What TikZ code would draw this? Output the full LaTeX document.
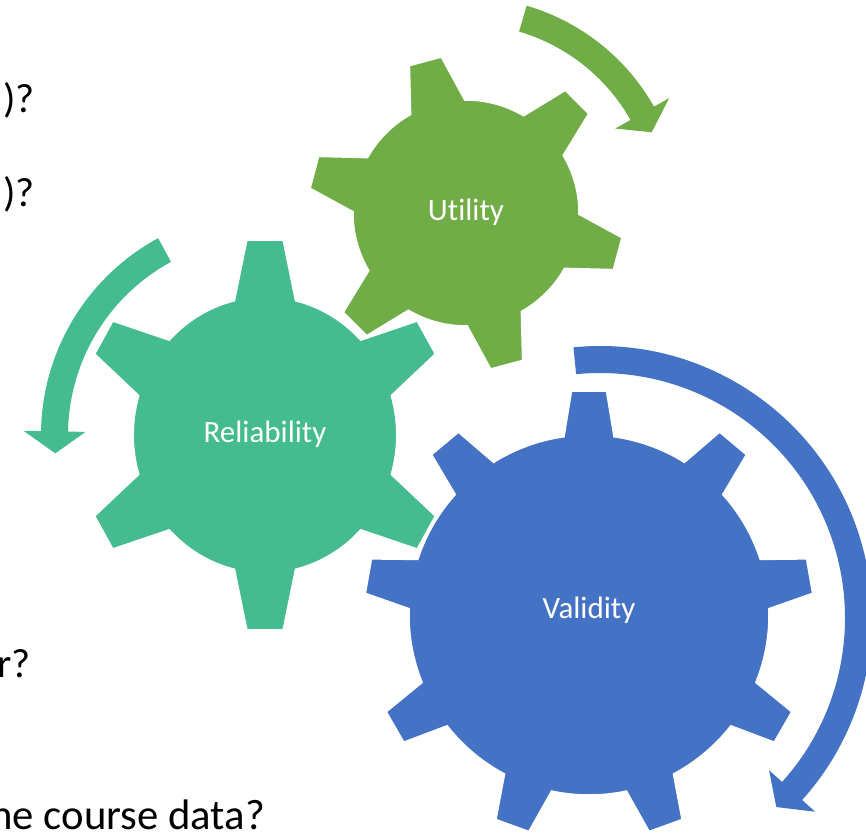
\documentclass[tikz,border=0pt]{standalone}
\usepackage{fontspec}
\setmainfont{Carlito}[Ligatures=NoCommon, RawFeature={-liga;-dlig;-clig}]
\definecolor{gearGreen}{HTML}{70AD47}
\definecolor{gearTeal}{HTML}{44BC8F}
\definecolor{gearBlue}{HTML}{4472C4}

% Gear outline: #1 style, #2 teeth, #3 angle of first tooth,
% #4 body radius, #5 tip radius, #6 half width at base, #7 half width at tip
\newcommand\drawgear[7]{%
  \pgfmathsetmacro\gstep{360/#2}%
  \pgfmathsetmacro\gab{asin(#6/#4)}%
  \pgfmathsetmacro\gat{atan(#7/#5)}%
  \pgfmathsetmacro\grt{veclen(#5,#7)}%
  \path[#1] ({#3-\gab}:#4)
    \foreach \k in {1,...,#2}{
      -- ({#3+(\k-1)*\gstep-\gat}:\grt)
      -- ({#3+(\k-1)*\gstep+\gat}:\grt)
      -- ({#3+(\k-1)*\gstep+\gab}:#4)
      arc[start angle={#3+(\k-1)*\gstep+\gab}, end angle={#3+\k*\gstep-\gab}, radius=#4]
    } -- cycle;%
}

% Curved block arrow: #1 style, #2 mid radius, #3 half shaft width,
% #4 tail angle, #5 angle where the head starts, #6 apex angle, #7 head half width
\newcommand\curvedarrow[7]{%
  \pgfmathsetmacro\aro{#2+#3}%
  \pgfmathsetmacro\ari{#2-#3}%
  \pgfmathsetmacro\aho{#2+#7}%
  \pgfmathsetmacro\ahi{#2-#7}%
  \path[#1] (#4:\aro) arc[start angle=#4, end angle=#5, radius=\aro]
    -- (#5:\aho) -- (#6:#2) -- (#5:\ahi) -- (#5:\ari)
    arc[start angle=#5, end angle=#4, radius=\ari] -- cycle;%
}

\tikzset{
  gearfill/.style={fill=#1, draw=white, line width=1.5pt, line join=miter},
  arrowfill/.style={fill=#1},
  gearlabel/.style={text=white, inner sep=0pt, font=\fontsize{31}{37}\selectfont},
  sidetext/.style={text=black, inner sep=0pt, anchor=base east, font=\fontsize{41}{49}\selectfont},
}

\begin{document}
\begin{tikzpicture}[x=1pt, y=1pt]
  \useasboundingbox (0,-832) rectangle (866,0);
  \clip (0,-832) rectangle (866,0);
  \fill[white] (0,-832) rectangle (866,0);

  % question fragments along the left edge
  \node[sidetext] (q1) at (35,-112) {)?};
  \node[sidetext] (q2) at (35,-206) {)?};
  \node[sidetext] (q3) at (31,-677) {r?};
  \node[sidetext, font=\fontsize{42.7}{51}\selectfont] (q4) at (265,-829) {he course data?};

  % rotation arrows
  \begin{scope}[shift={(265,-435)}]
    \curvedarrow{arrowfill=gearTeal}{210.5}{13.5}{118.5}{179}{185}{31}
  \end{scope}
  \begin{scope}[shift={(466,-213)}]
    \curvedarrow{arrowfill=gearGreen}{202.5}{13.5}{73.7}{29.5}{23.5}{31}
  \end{scope}
  \begin{scope}[shift={(600,-618)}]
    \curvedarrow{arrowfill=gearBlue}{258.5}{13.5}{95.6}{-42}{-47}{31}
  \end{scope}

  % gears
  \begin{scope}[shift={(265,-435)}, xscale=0.955]
    \drawgear{gearfill=gearTeal}{6}{90}{138}{195}{32}{19}
  \end{scope}
  \begin{scope}[shift={(466,-213)}]
    \drawgear{gearfill=gearGreen}{6}{105}{113}{157}{28}{16.5}
  \end{scope}
  \begin{scope}[shift={(589,-615)}]
    \drawgear{gearfill=gearBlue}{9}{90}{180}{224}{25}{17.5}
  \end{scope}

  % gear labels
  \node[gearlabel] (reliability) at (265,-434) {Reliability};
  \node[gearlabel] (utility) at (466,-212) {Utility};
  \node[gearlabel] (validity) at (589,-610) {Validity};
\end{tikzpicture}
\end{document}
